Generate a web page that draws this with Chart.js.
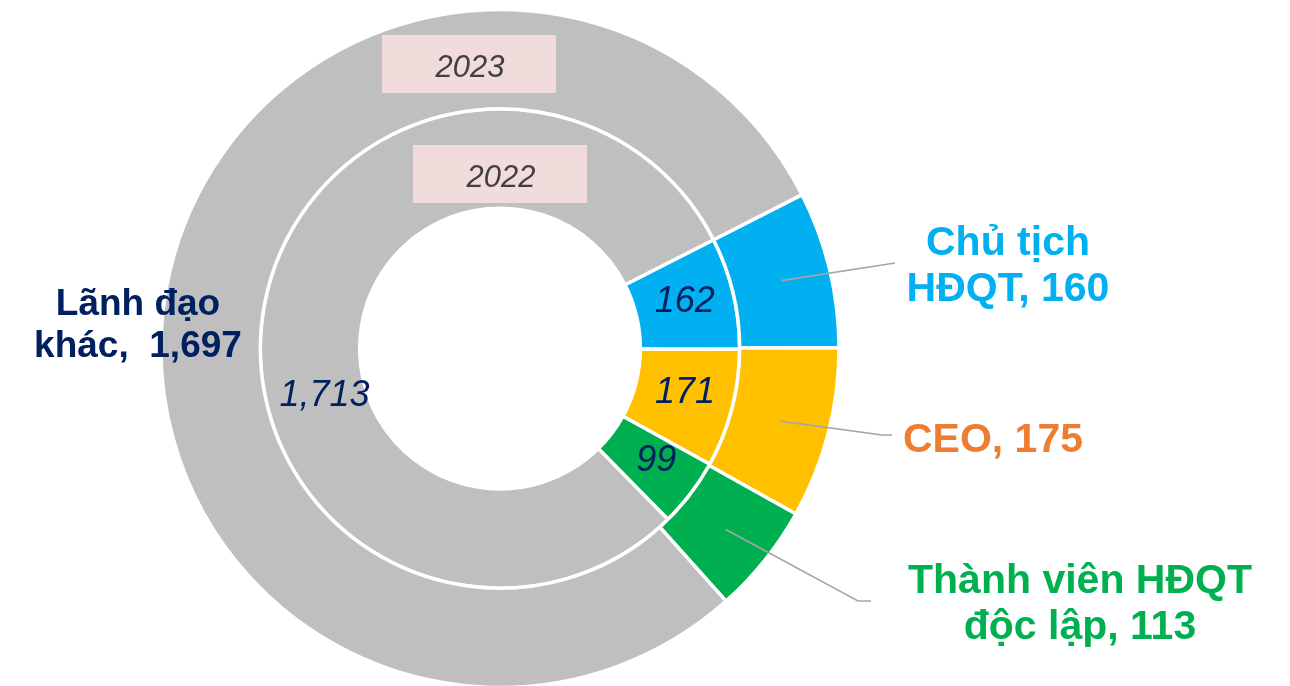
<!DOCTYPE html>
<html>
<head>
<meta charset="utf-8">
<script src="https://cdn.jsdelivr.net/npm/chart.js@4.4.0/dist/chart.umd.min.js"></script>
<style>
  html, body { margin: 0; padding: 0; background: #fff; }
  canvas { display: block; }
</style>
</head>
<body>
<canvas id="chart" width="1290" height="686"></canvas>
<script>
// data
const categories = ['Chủ tịch HĐQT', 'CEO', 'Thành viên HĐQT độc lập', 'Lãnh đạo khác'];
const years = ['2023', '2022'];
const values2023 = [160, 175, 113, 1697];
const values2022 = [162, 171, 99, 1713];

// how the outside category names are broken into lines
const categoryLines = [['Chủ tịch', 'HĐQT'], ['CEO'], ['Thành viên HĐQT', 'độc lập'], ['Lãnh đạo', 'khác,']];

const sliceColors = ['#00B0F0', '#FFC000', '#00B050', '#BFBFBF'];
const labelColors = ['#00B0F0', '#ED7D31', '#00B050', '#002060'];
const FONT = '"Liberation Sans", Arial, sans-serif';

const fmt = v => v.toLocaleString('en-US');

// where outside labels sit: text centre x, first baseline, line gap, font size, leader end point
const outerLabelPos = [
  { x: 1008, y: 255, gap: 46, size: 41, lead: [[895, 263]] },
  { x: 993, y: 452, gap: 46, size: 41, lead: [[882, 435], [892, 435]] },
  { x: 1080, y: 593, gap: 46, size: 41, lead: [[858, 601], [871, 601]] },
  { x: 138, y: 315, gap: 42, size: 37, lead: null }
];

const labelsPlugin = {
  id: 'ringLabels',
  afterDatasetsDraw(chart) {
    const ctx = chart.ctx;
    const outerArcs = chart.getDatasetMeta(0).data;
    const innerArcs = chart.getDatasetMeta(1).data;
    const cx = outerArcs[0].x;

    ctx.save();
    // year tags
    const tag = (text, y0, x0) => {
      ctx.fillStyle = '#F2DCDB';
      ctx.fillRect(x0, y0, 174, 58);
      ctx.fillStyle = '#404040';
      ctx.font = 'italic 31px ' + FONT;
      ctx.textAlign = 'center';
      ctx.textBaseline = 'alphabetic';
      ctx.fillText(text, x0 + 88, y0 + 42);
    };
    tag(years[0], 35, cx - 118);
    tag(years[1], 145, cx - 87);

    // leader lines
    ctx.strokeStyle = '#A6A6A6';
    ctx.lineWidth = 1.6;
    outerArcs.forEach((arc, i) => {
      const p = outerLabelPos[i];
      if (!p.lead) return;
      const c = arc.getCenterPoint();
      ctx.beginPath();
      ctx.moveTo(c.x, c.y);
      p.lead.forEach(pt => ctx.lineTo(pt[0], pt[1]));
      ctx.stroke();
    });

    // outside labels, 2023
    ctx.textAlign = 'center';
    ctx.textBaseline = 'alphabetic';
    values2023.forEach((v, i) => {
      const p = outerLabelPos[i];
      const lines = categoryLines[i].slice();
      const last = lines.length - 1;
      lines[last] = lines[last] + (lines[last].endsWith(',') ? '  ' : ', ') + fmt(v);
      ctx.font = 'bold ' + p.size + 'px ' + FONT;
      ctx.fillStyle = labelColors[i];
      lines.forEach((t, k) => ctx.fillText(t, p.x, p.y + k * p.gap));
    });

    // inner values, 2022
    ctx.font = 'italic 36px ' + FONT;
    ctx.fillStyle = '#002060';
    ctx.textBaseline = 'middle';
    const innerShift = [[0, -2], [1, -3], [5, -2], [12, 78]];
    innerArcs.forEach((arc, i) => {
      const c = arc.getCenterPoint();
      ctx.fillText(fmt(values2022[i]), c.x + innerShift[i][0], c.y + innerShift[i][1]);
    });
    ctx.restore();
  }
};

new Chart(document.getElementById('chart'), {
  type: 'doughnut',
  data: {
    labels: categories,
    datasets: [
      { label: years[0], data: values2023, backgroundColor: sliceColors, borderColor: '#ffffff', borderWidth: 3.5, clip: false },
      { label: years[1], data: values2022, backgroundColor: sliceColors, borderColor: '#ffffff', borderWidth: 3.5, clip: false }
    ]
  },
  options: {
    responsive: false,
    animation: false,
    rotation: 63,
    radius: 339,
    cutout: '41.4%',
    layout: { padding: { left: 162, right: 452, top: 11, bottom: 0 } },
    plugins: {
      legend: { display: false },
      tooltip: { enabled: false }
    },
    elements: { arc: { hoverBorderWidth: 0, hoverOffset: 0 } }
  },
  plugins: [labelsPlugin]
});
</script>
</body>
</html>
